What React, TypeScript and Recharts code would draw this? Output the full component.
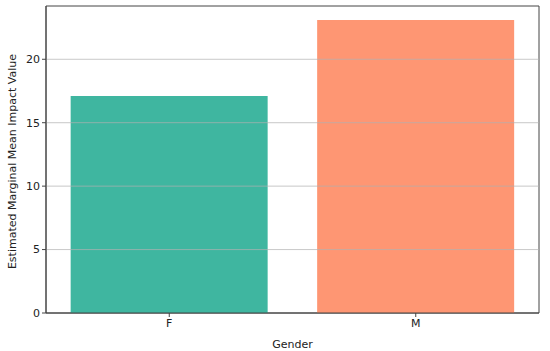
import { BarChart, Bar, XAxis, YAxis, ReferenceLine, ReferenceArea, Cell } from 'recharts'

const GENDERS = ['F', 'M']
const IMPACT = [17.1, 23.1]
const BAR_COLORS = ['#3fb6a0', '#fe9673']
const Y_TICKS = [0, 5, 10, 15, 20]
const Y_MAX = 24.2

const font = { fontFamily: 'DejaVu Sans, sans-serif', fontSize: 11, fill: '#222' }
const spine = { stroke: '#444', strokeWidth: 1 }

export default function App() {
  const data = GENDERS.map((g, i) => ({ gender: g, value: IMPACT[i] }))

  return (
    <div style={{ position: 'absolute', left: 0, top: 0, background: '#fff' }}>
      <BarChart width={550} height={351} data={data} barCategoryGap="10%" margin={{ top: 6, right: 11, bottom: 0, left: 0 }}>
        <XAxis dataKey="gender" height={38} tick={font} tickLine={{ stroke: '#444' }} tickSize={4} axisLine={spine}
          label={{ value: 'Gender', position: 'insideBottom', offset: 3, style: font }} />
        <YAxis width={46} domain={[0, Y_MAX]} ticks={Y_TICKS} tick={font} tickLine={{ stroke: '#444' }} tickSize={4} axisLine={spine}
          label={{ value: 'Estimated Marginal Mean Impact Value', angle: -90, position: 'insideLeft', offset: 12, dy: 2, style: { ...font, textAnchor: 'middle' } }} />
        <Bar dataKey="value" isAnimationActive={false}>
          {data.map((d, i) => <Cell key={d.gender} fill={BAR_COLORS[i]} />)}
        </Bar>
        {Y_TICKS.slice(1).map(t => (
          <ReferenceLine key={t} y={t} stroke="#b0b0b0" strokeOpacity={0.7} strokeWidth={1} />
        ))}
        <ReferenceArea y1={0} y2={Y_MAX} fill="none" fillOpacity={0} stroke="#444" strokeWidth={1} />
      </BarChart>
    </div>
  )
}
